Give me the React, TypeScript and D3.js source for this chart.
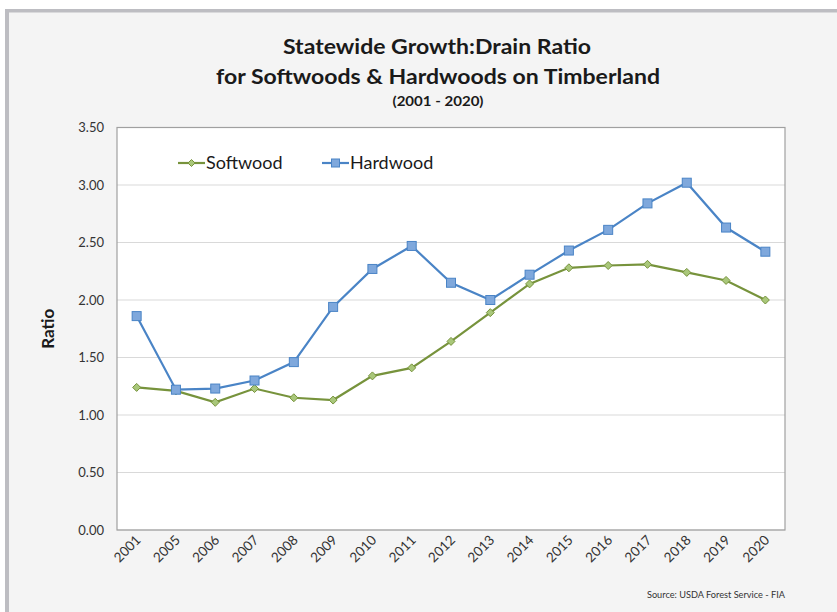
import React from "react";
import * as d3 from "d3";

const years = ["2001","2005","2006","2007","2008","2009","2010","2011","2012","2013","2014","2015","2016","2017","2018","2019","2020"];
const softwood = [1.24,1.21,1.11,1.23,1.15,1.13,1.34,1.41,1.64,1.89,2.14,2.28,2.30,2.31,2.24,2.17,2.00];
const hardwood = [1.86,1.22,1.23,1.30,1.46,1.94,2.27,2.47,2.15,2.00,2.22,2.43,2.61,2.84,3.02,2.63,2.42];
const yTicks = [0,0.5,1,1.5,2,2.5,3,3.5];

const W = 837, H = 612;
const plot = { left: 117, right: 785, top: 127.5, bottom: 530 };
const FONT = "Lato, 'Open Sans', sans-serif";

export default function App() {
  const x = d3.scaleBand<string>().domain(years).range([plot.left, plot.right]);
  const cx = (d: string) => (x(d) as number) + x.bandwidth() / 2;
  const y = d3.scaleLinear().domain([0, 3.5]).range([plot.bottom, plot.top]);
  const line = d3.line<number>().x((_, i) => cx(years[i])).y((v) => y(v));
  const softColor = "#77933c", softFill = "#a9c77a";
  const hardColor = "#4a84c6", hardFill = "#7fa8dc";
  const diamond = (px: number, py: number, r: number) => `M${px},${py - r}L${px + r},${py}L${px},${py + r}L${px - r},${py}Z`;

  return (
    <svg width={W} height={H} style={{ position: "absolute", left: 0, top: 0 }} fontFamily={FONT}>
      <rect x={0} y={0} width={W} height={H} fill="#ffffff" />
      <rect x={5} y={9} width={W - 5} height={H - 9} fill="#f4f4f4" />
      <rect x={5} y={9} width={W - 5} height={3.5} fill="#bdbdc2" />
      <rect x={5} y={9} width={4} height={H - 9} fill="#bdbdc2" />

      <text x={437} y={54} textAnchor="middle" fontSize={21.5} fontWeight="bold" fill="#1a1a1a" textLength={308} lengthAdjust="spacingAndGlyphs">Statewide Growth:Drain Ratio</text>
      <text x={438} y={84} textAnchor="middle" fontSize={21.5} fontWeight="bold" fill="#1a1a1a" textLength={444} lengthAdjust="spacingAndGlyphs">for Softwoods &amp; Hardwoods on Timberland</text>
      <text x={438} y={106} textAnchor="middle" fontSize={14} fontWeight="bold" fill="#1a1a1a" textLength={91} lengthAdjust="spacingAndGlyphs">(2001 - 2020)</text>

      <rect x={plot.left} y={plot.top} width={plot.right - plot.left} height={plot.bottom - plot.top} fill="#ffffff" />
      {yTicks.map((t) => (
        <g key={t}>
          <line x1={plot.left} x2={plot.right} y1={y(t)} y2={y(t)} stroke="#d9d9d9" strokeWidth={1} />
          <text x={104} y={y(t) + 4.5} textAnchor="end" fontSize={13} fill="#333">{t.toFixed(2)}</text>
        </g>
      ))}
      <rect x={plot.left} y={plot.top} width={plot.right - plot.left} height={plot.bottom - plot.top} fill="none" stroke="#a0a0a0" strokeWidth={1.2} />

      {years.map((yr) => (
        <text key={yr} transform={`translate(${cx(yr) + 5},${plot.bottom + 11}) rotate(-45)`} textAnchor="end" fontSize={13.5} fill="#333">{yr}</text>
      ))}

      <text transform={`translate(54,${(plot.top + plot.bottom) / 2}) rotate(-90)`} textAnchor="middle" fontSize={17} fontWeight="bold" fill="#1a1a1a">Ratio</text>

      <path d={line(softwood) || ""} fill="none" stroke={softColor} strokeWidth={2.2} />
      {softwood.map((v, i) => (
        <path key={i} d={diamond(cx(years[i]), y(v), 4)} fill={softFill} stroke={softColor} strokeWidth={1} />
      ))}
      <path d={line(hardwood) || ""} fill="none" stroke={hardColor} strokeWidth={2.2} />
      {hardwood.map((v, i) => (
        <rect key={i} x={cx(years[i]) - 4.5} y={y(v) - 4.5} width={9} height={9} fill={hardFill} stroke={hardColor} strokeWidth={1} />
      ))}

      <g>
        <line x1={178} x2={205} y1={163} y2={163} stroke={softColor} strokeWidth={2.2} />
        <path d={diamond(191.5, 163, 3.5)} fill={softFill} stroke={softColor} strokeWidth={1} />
        <text x={206} y={169} fontSize={18} fill="#1a1a1a">Softwood</text>
        <line x1={322} x2={349} y1={163} y2={163} stroke={hardColor} strokeWidth={2.2} />
        <rect x={331.5} y={159} width={8} height={8} fill={hardFill} stroke={hardColor} strokeWidth={1} />
        <text x={350} y={169} fontSize={18} fill="#1a1a1a">Hardwood</text>
      </g>

      <text x={785} y={598} textAnchor="end" fontSize={9.2} fill="#333">Source: USDA Forest Service - FIA</text>
    </svg>
  );
}
